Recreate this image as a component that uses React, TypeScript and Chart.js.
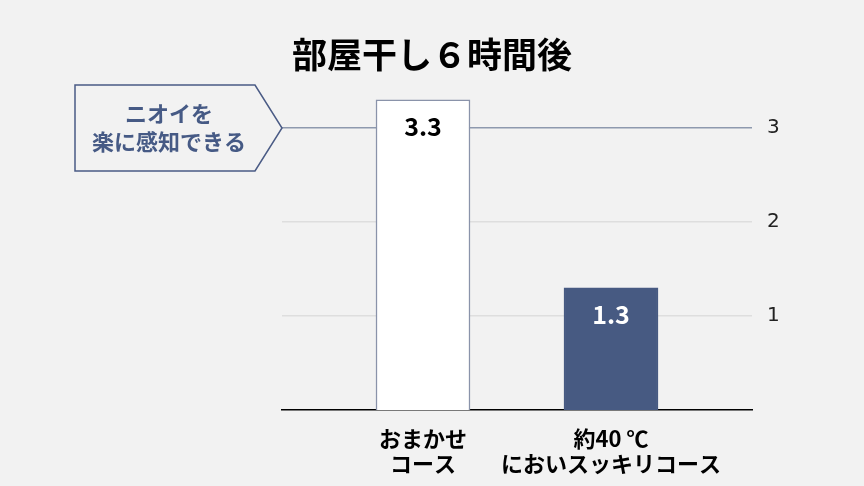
import { useEffect, useRef } from "react"
import { Chart, registerables } from "chart.js"

Chart.register(...registerables)

const title = "部屋干し６時間後"
const categories = [["おまかせ", "コース"], ["約40 ℃", "においスッキリコース"]]
const values = [3.3, 1.3]
const barColors = ["#ffffff", "#475a82"]
const barBorders = ["#8a93aa", "#475a82"]
const valueColors = ["#000000", "#ffffff"]
const yTicks = [1, 2, 3]
const calloutLines = ["ニオイを", "楽に感知できる"]
const calloutValue = 3

const JP = '"Noto Sans CJK JP", "Noto Sans", sans-serif'

export default function App() {
  const chartRef = useRef<HTMLCanvasElement>(null)
  const chartInstance = useRef<Chart | null>(null)

  useEffect(() => {
    if (!chartRef.current) return
    document.body.style.margin = "0"

    if (chartInstance.current) {
      chartInstance.current.destroy()
    }

    const ctx = chartRef.current.getContext("2d")
    if (!ctx) return

    // title, callout and value labels drawn by hand
    const decorations = {
      id: "decorations",
      afterDatasetsDraw(chart: Chart) {
        const c = chart.ctx
        const y = chart.scales.y
        const area = chart.chartArea

        c.save()
        c.fillStyle = "#000"
        c.font = `bold 35px ${JP}`
        c.textAlign = "center"
        c.textBaseline = "middle"
        c.fillText(title, 432, 55)

        // callout pointing at the 3 line
        const cy = y.getPixelForValue(calloutValue)
        const tip = area.left
        c.beginPath()
        c.moveTo(75, cy - 43)
        c.lineTo(tip - 27, cy - 43)
        c.lineTo(tip, cy)
        c.lineTo(tip - 27, cy + 43)
        c.lineTo(75, cy + 43)
        c.closePath()
        c.fillStyle = "#f2f2f2"
        c.fill()
        c.lineWidth = 1.5
        c.strokeStyle = "#4a5b85"
        c.stroke()
        c.fillStyle = "#465a85"
        c.font = `bold 22px ${JP}`
        c.fillText(calloutLines[0], 169, cy - 14)
        c.fillText(calloutLines[1], 169, cy + 14)

        // values inside bars
        const meta = chart.getDatasetMeta(0)
        c.font = `bold 25px ${JP}`
        meta.data.forEach((bar: any, i: number) => {
          c.fillStyle = valueColors[i]
          c.fillText(String(values[i]), bar.x, bar.y + 27)
        })
        c.restore()
      },
    }

    chartInstance.current = new Chart(ctx, {
      type: "bar",
      data: {
        datasets: [
          {
            data: values.map((v, i) => ({ x: i, y: v })),
            backgroundColor: barColors,
            borderColor: barBorders,
            borderWidth: 1.5,
            barThickness: 94,
          },
        ],
      },
      options: {
        responsive: false,
        animation: false,
        devicePixelRatio: 1,
        layout: { padding: { top: 81, left: 282, right: 0, bottom: 0 } },
        plugins: {
          legend: { display: false },
          tooltip: { enabled: false },
        },
        scales: {
          x: {
            type: "linear",
            offset: false,
            min: -0.75,
            max: 1.75,
            afterBuildTicks: (scale: any) => {
              scale.ticks = categories.map((_, i) => ({ value: i }))
            },
            afterFit: (scale: any) => {
              scale.height = 76
            },
            grid: { display: false, offset: false },
            border: { display: true, color: "#000", width: 1.5 },
            ticks: {
              autoSkip: false,
              maxRotation: 0,
              padding: 8,
              color: "#000",
              font: { family: JP, size: 22, weight: "bold", lineHeight: 1.15 },
              callback: (v: any) => categories[v] ?? "",
            },
          },
          y: {
            position: "right",
            min: 0,
            max: 3.5,
            afterBuildTicks: (scale: any) => {
              scale.ticks = yTicks.map((v) => ({ value: v }))
            },
            afterFit: (scale: any) => {
              scale.width = 112
            },
            border: { display: false },
            grid: {
              drawTicks: false,
              lineWidth: 1.5,
              color: (c: any) => (c.tick && c.tick.value === calloutValue ? "#8e99ae" : "#dedede"),
            },
            ticks: {
              padding: 15,
              color: "#222",
              font: { family: '"DejaVu Sans", sans-serif', size: 20 },
            },
          },
        },
      },
      plugins: [decorations],
    })

    return () => {
      if (chartInstance.current) {
        chartInstance.current.destroy()
      }
    }
  }, [])

  return (
    <div style={{ position: "absolute", left: 0, top: 0, width: 864, height: 486, background: "#f2f2f2" }}>
      <canvas ref={chartRef} width={864} height={486} />
    </div>
  )
}
